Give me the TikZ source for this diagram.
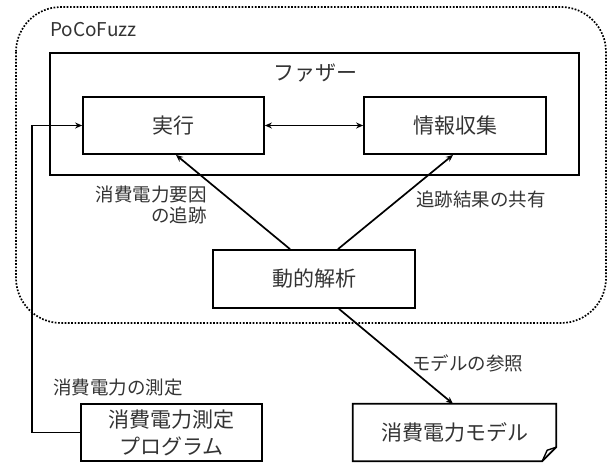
\documentclass[tikz,border=0pt]{standalone}
\usepackage{fontspec}
\setmainfont{Noto Sans CJK JP}
\usetikzlibrary{arrows.meta}
\tikzset{
  boxnode/.style={draw, line width=1.8pt, inner sep=0pt, font=\fontsize{21}{25}\selectfont, text=black!80},
  lbl/.style={inner sep=0pt, font=\fontsize{18.5}{21}\selectfont, text=black!80},
  conn/.style={line width=1.7pt, -{Stealth[length=7pt,width=6pt]}},
  bothconn/.style={line width=1.7pt, {Stealth[length=7pt,width=6pt]}-{Stealth[length=7pt,width=6pt]}},
}
\begin{document}
\begin{tikzpicture}[x=1pt,y=-1pt]
\useasboundingbox (0,0) rectangle (611,463);
% outer dotted region
\draw[line width=1.7pt, dash pattern=on 1.7pt off 1.6pt, rounded corners=45pt] (16,7) rectangle (606,323);
\node[inner sep=0pt, anchor=west, font=\fontsize{19}{22}\selectfont, text=black!80] (poco) at (50,30) {PoCoFuzz};
% fuzzer
\draw[line width=1.8pt] (50,53) rectangle (579,175);
\node[inner sep=0pt, font=\fontsize{21}{25}\selectfont, text=black!80] (fuzzer) at (315,73) {ファザー};
\node[boxnode, minimum width=181pt, minimum height=57pt] (exec) at (173.5,125.5) {実行};
\node[boxnode, minimum width=182pt, minimum height=57pt] (info) at (455,125.5) {情報収集};
\node[boxnode, minimum width=202pt, minimum height=58pt] (dyn) at (314,279) {動的解析};
\node[boxnode, minimum width=181pt, minimum height=57pt, align=center, font=\fontsize{21}{27}\selectfont] (meas) at (171.5,432.5) {消費電力測定\\プログラム};
\node[inner sep=0pt, minimum width=203pt, minimum height=57pt, font=\fontsize{21}{25}\selectfont, text=black!80] (model) at (454.5,432.5) {消費電力モデル};
\draw[line width=1.8pt, line join=miter] (model.north west) -- (model.north east) -- ([yshift=14pt]model.south east) -- ([xshift=-14pt]model.south east) -- (model.south west) -- cycle;
\draw[line width=1.4pt] ([yshift=14pt]model.south east) -- ([xshift=-9pt,yshift=11pt]model.south east) -- ([xshift=-14pt]model.south east);
% connectors
\coordinate (c1) at (32,432.5);
\coordinate (c2) at (32,125.5);
\draw[conn] (meas.west) -- (c1) -- (c2) -- (exec.west);
\draw[bothconn] (exec.east) -- (info.west);
\draw[conn] ([xshift=-24pt]dyn.north) -- ([xshift=2.5pt]exec.south);
\draw[conn] ([xshift=24pt]dyn.north) -- ([xshift=-2pt]info.south);
\draw[conn] ([xshift=25pt]dyn.south) -- ([xshift=-1.5pt]model.north);
% labels
\node[lbl, anchor=east, align=right] (l1) at (207,205) {消費電力要因\\の追跡};
\node[lbl, anchor=west] (l2) at (416,199) {追跡結果の共有};
\node[lbl, anchor=west] (l3) at (412,363) {モデルの参照};
\node[lbl, anchor=west] (l4) at (53,388) {消費電力の測定};
\end{tikzpicture}
\end{document}
